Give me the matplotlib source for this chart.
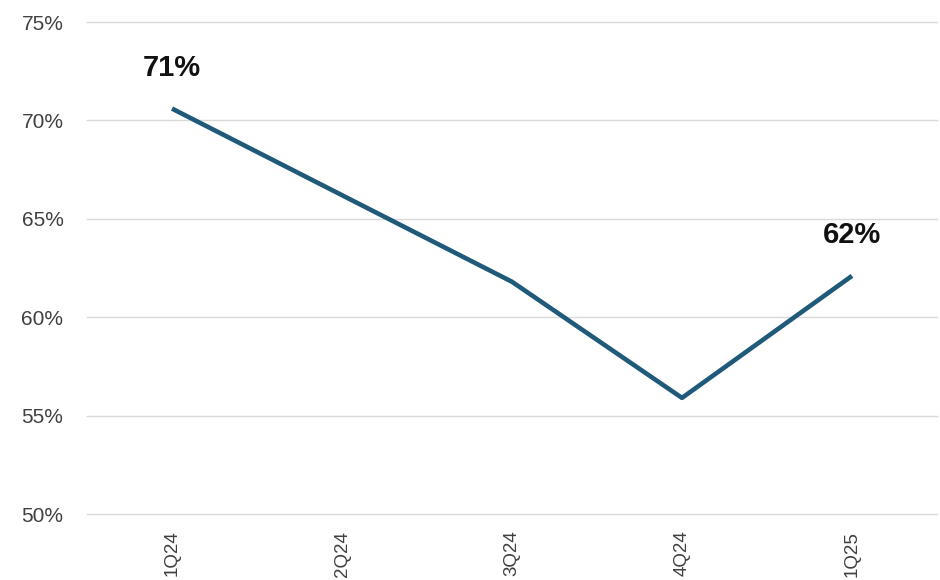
import matplotlib
matplotlib.use("Agg")
import matplotlib.pyplot as plt
from matplotlib.ticker import FuncFormatter

quarters = ["1Q24", "2Q24", "3Q24", "4Q24", "1Q25"]
values = [70.6, 66.2, 61.8, 55.9, 62.1]
labels = {0: "71%", 4: "62%"}
yticks = [50, 55, 60, 65, 70, 75]

plt.rcParams['font.family'] = ['Liberation Sans', 'DejaVu Sans']

W, H = 940, 580
fig = plt.figure(figsize=(W / 100, H / 100), dpi=100)
ax = fig.add_axes([87 / W, (H - 514) / H, (937 - 87) / W, (514 - 22) / H])

x = list(range(len(quarters)))
ax.plot(x, values, color="#1f5a7a", linewidth=3.3, solid_capstyle="butt", zorder=3)

for i, t in labels.items():
    ax.annotate(t, (x[i], values[i]), xytext=(0, 29.5), textcoords="offset points",
                ha="center", va="center", fontsize=21, fontweight="bold", color="#111111")

ax.set_xlim(-0.5, len(quarters) - 0.5)
ax.set_ylim(50, 75)
ax.set_yticks(yticks)
ax.yaxis.set_major_formatter(FuncFormatter(lambda v, p: f"{v:.0f}%"))
ax.set_xticks(x)
ax.set_xticklabels(quarters, rotation=90, va="top", ha="center")
ax.grid(axis="y", color="#d9d9d9", linewidth=1)
for gl in ax.get_ygridlines():
    gl.set_clip_on(False)
ax.set_axisbelow(True)
for s in ax.spines.values():
    s.set_visible(False)
ax.tick_params(axis="y", length=0, labelsize=15, labelcolor="#404040", pad=17)
ax.tick_params(axis="x", length=0, labelsize=13.5, labelcolor="#404040", pad=12)

fig.savefig("out.png", dpi=100, facecolor="white")
